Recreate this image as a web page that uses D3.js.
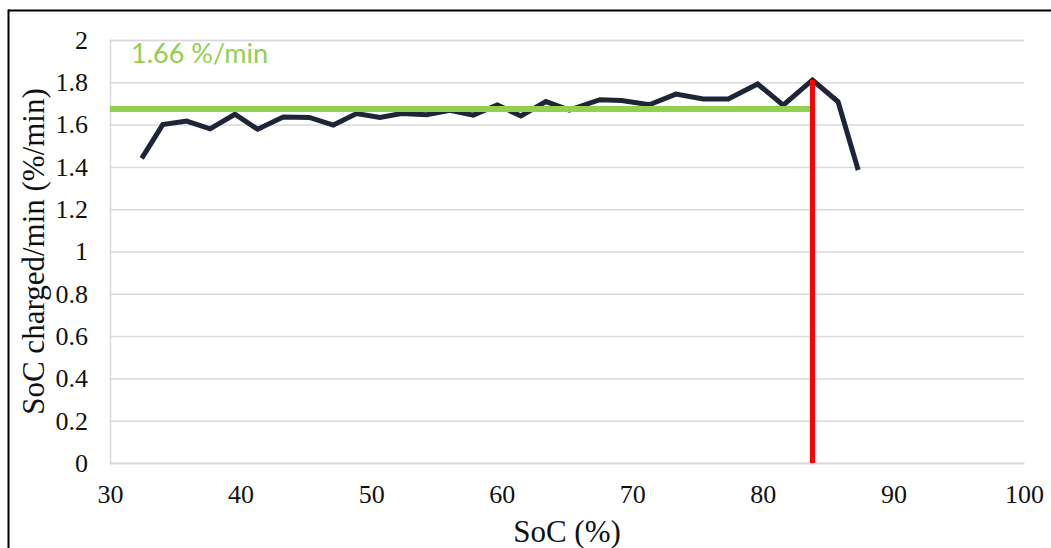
<!DOCTYPE html>
<html>
<head>
<meta charset="utf-8">
<script src="https://cdn.jsdelivr.net/npm/d3@7"></script>
<style>
  html, body { margin: 0; padding: 0; background: #fff; }
  svg { display: block; }
</style>
</head>
<body>
<svg id="chart" width="1051" height="548"></svg>
<script>
// ---- data ----
const soc = [32.43, 34.04, 35.87, 37.66, 39.57, 41.31, 43.27, 45.26, 47.10, 48.89,
             50.67, 52.33, 54.25, 56.03, 57.82, 59.66, 61.47, 63.39, 65.17, 67.52,
             69.18, 71.30, 73.34, 75.43, 77.35, 79.60, 81.56, 83.80, 85.76, 87.30];
const rate = [1.44, 1.60, 1.617, 1.58, 1.649, 1.578, 1.636, 1.634, 1.598, 1.652,
              1.634, 1.652, 1.647, 1.668, 1.645, 1.693, 1.641, 1.709, 1.669, 1.718,
              1.714, 1.694, 1.744, 1.721, 1.721, 1.792, 1.692, 1.811, 1.708, 1.385];
const avgRate = 1.674;          // drawn average line
const avgLabel = "1.66 %/min";
const avgStart = 30;
const cutoffSoc = 83.8;          // red marker
const cutoffRate = 1.811;
const xTicks = [30, 40, 50, 60, 70, 80, 90, 100];
const yTicks = [0, 0.2, 0.4, 0.6, 0.8, 1, 1.2, 1.4, 1.6, 1.8, 2];
const xTitle = "SoC (%)";
const yTitle = "SoC charged/min (%/min)";

(function () {
// ---- layout ----
const svg = d3.select("#chart");
const pl = 110, pr = 1024, pt = 40, pb = 463;
const x = d3.scaleLinear().domain([30, 100]).range([pl, pr]);
const y = d3.scaleLinear().domain([0, 2]).range([pb, pt]);
const serif = "'Liberation Serif', 'Times New Roman', serif";

// outer border (top + left visible)
svg.append("line").attr("x1", 8).attr("x2", 1051).attr("y1", 10.5).attr("y2", 10.5)
  .attr("stroke", "#000").attr("stroke-width", 2);
svg.append("line").attr("x1", 8.5).attr("x2", 8.5).attr("y1", 9.5).attr("y2", 548)
  .attr("stroke", "#000").attr("stroke-width", 2);

// gridlines via axis
const yAxis = d3.axisLeft(y).tickValues(yTicks).tickSize(-(pr - pl)).tickPadding(22)
  .tickFormat(d3.format("~g"));
const gy = svg.append("g").attr("transform", `translate(${pl},0)`).call(yAxis);
gy.select(".domain").attr("stroke", "#d9d9d9").attr("stroke-width", 1.5);
gy.selectAll(".tick line").attr("stroke", "#d9d9d9").attr("stroke-width", 1.5);
gy.selectAll(".tick text").attr("font-family", serif).attr("font-size", 26).attr("fill", "#111");

const xAxis = d3.axisBottom(x).tickValues(xTicks).tickSize(0).tickPadding(22)
  .tickFormat(d3.format("d"));
const gx = svg.append("g").attr("transform", `translate(0,${pb})`).call(xAxis);
gx.select(".domain").attr("stroke", "#d9d9d9").attr("stroke-width", 1.5);
gx.selectAll(".tick text").attr("font-family", serif).attr("font-size", 26).attr("fill", "#111");

// data line
const line = d3.line().x((d, i) => x(soc[i])).y(d => y(d));
svg.append("path").datum(rate).attr("d", line)
  .attr("fill", "none").attr("stroke", "#1f2538").attr("stroke-width", 5)
  .attr("stroke-linejoin", "miter");

// average green line
svg.append("line")
  .attr("x1", x(avgStart)).attr("x2", x(cutoffSoc))
  .attr("y1", y(avgRate)).attr("y2", y(avgRate))
  .attr("stroke", "#92d050").attr("stroke-width", 6);

// red cutoff line
svg.append("line")
  .attr("x1", x(cutoffSoc)).attr("x2", x(cutoffSoc))
  .attr("y1", y(0)).attr("y2", y(cutoffRate))
  .attr("stroke", "#ff0000").attr("stroke-width", 5);

// average label
svg.append("text").attr("x", 131).attr("y", 63)
  .attr("font-family", "Lato, 'Open Sans', sans-serif").attr("font-size", 27)
  .attr("fill", "#92d050").text(avgLabel);

// axis titles
svg.append("text").attr("x", (pl + pr) / 2).attr("y", 542)
  .attr("text-anchor", "middle").attr("font-family", serif).attr("font-size", 31)
  .attr("fill", "#111").text(xTitle);
svg.append("text").attr("transform", `translate(44,${(pt + pb) / 2}) rotate(-90)`)
  .attr("text-anchor", "middle").attr("font-family", serif).attr("font-size", 31)
  .attr("fill", "#111").text(yTitle);
})();
</script>
</body>
</html>
